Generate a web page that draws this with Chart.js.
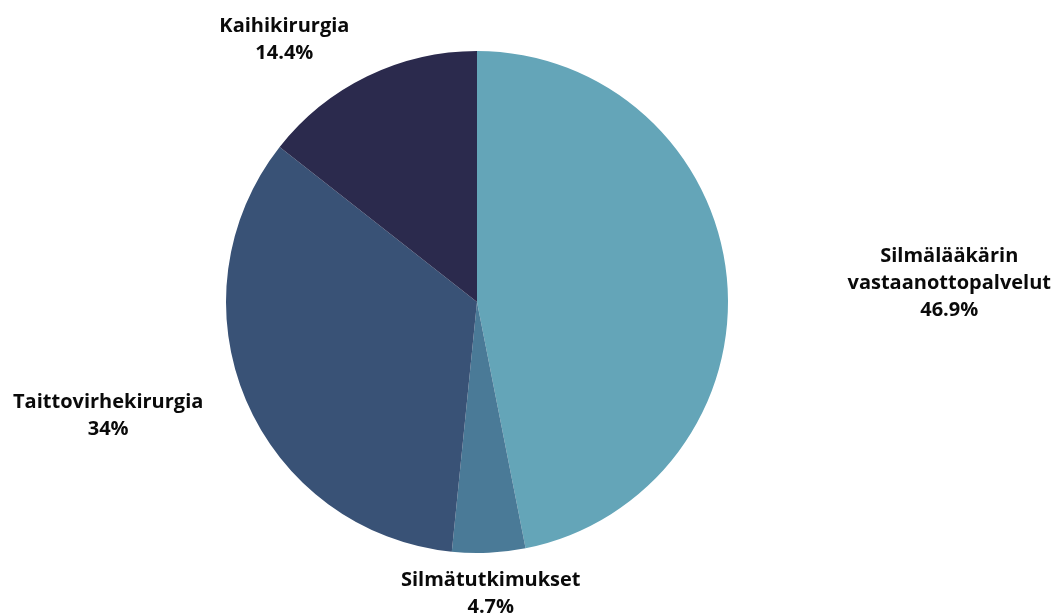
<!DOCTYPE html>
<html>
<head>
<meta charset="utf-8">
<script src="https://cdn.jsdelivr.net/npm/chart.js@4"></script>
<style>
  html, body { margin: 0; padding: 0; background: #fff; }
  #wrap { width: 1056px; height: 613px; }
</style>
</head>
<body>
<div id="wrap"><canvas id="pieChart" width="1056" height="613"></canvas></div>
<script>
// chart data
const categories = [['Silmälääkärin', 'vastaanottopalvelut'], ['Silmätutkimukset'], ['Taittovirhekirurgia'], ['Kaihikirurgia']];
const shares = [46.9, 4.7, 34, 14.4];
const sliceColors = ['#64a5b8', '#4a7a97', '#395276', '#2b2a4d'];

// draws the category + percent labels outside the pie
const outsideLabels = {
  id: 'outsideLabels',
  afterDatasetsDraw(chart) {
    const ctx = chart.ctx;
    const meta = chart.getDatasetMeta(0);
    const lineH = 27;
    const margin = 5;
    ctx.save();
    ctx.font = 'bold 20px "Open Sans", sans-serif';
    ctx.fillStyle = '#0a0a0a';
    ctx.textAlign = 'center';
    ctx.textBaseline = 'middle';
    meta.data.forEach((arc, i) => {
      const p = arc.getProps(['x', 'y', 'startAngle', 'endAngle', 'outerRadius'], true);
      const mid = (p.startAngle + p.endAngle) / 2;
      const cos = Math.cos(mid), sin = Math.sin(mid);
      const r = p.outerRadius + 41;
      const ax = p.x + cos * r;
      const ay = p.y + sin * r;
      const lines = categories[i].concat([shares[i] + '%']);
      const w = Math.max(...lines.map(t => ctx.measureText(t).width));
      const h = lines.length * lineH;
      let left;
      let top = ay - h / 2;
      if (cos > 0.85) { left = chart.width - margin - w; top += 10; }
      else if (cos < -0.85) left = margin + 8;
      else if (cos > 0.3) left = ax;
      else if (cos < -0.3) left = ax - w;
      else left = ax - w / 2;
      lines.forEach((t, j) => {
        ctx.fillText(t, left + w / 2, top + lineH * j + lineH / 2);
      });
    });
    ctx.restore();
  }
};

const ctxPie = document.getElementById('pieChart').getContext('2d');
const pieChart = new Chart(ctxPie, {
  type: 'pie',
  data: {
    labels: categories,
    datasets: [{
      data: shares,
      backgroundColor: sliceColors,
      borderWidth: 0
    }]
  },
  options: {
    responsive: false,
    animation: false,
    layout: {
      padding: { left: 100, right: 202, top: 51, bottom: 60 }
    },
    plugins: {
      legend: { display: false },
      tooltip: { enabled: false }
    }
  },
  plugins: [outsideLabels]
});
</script>
</body>
</html>
